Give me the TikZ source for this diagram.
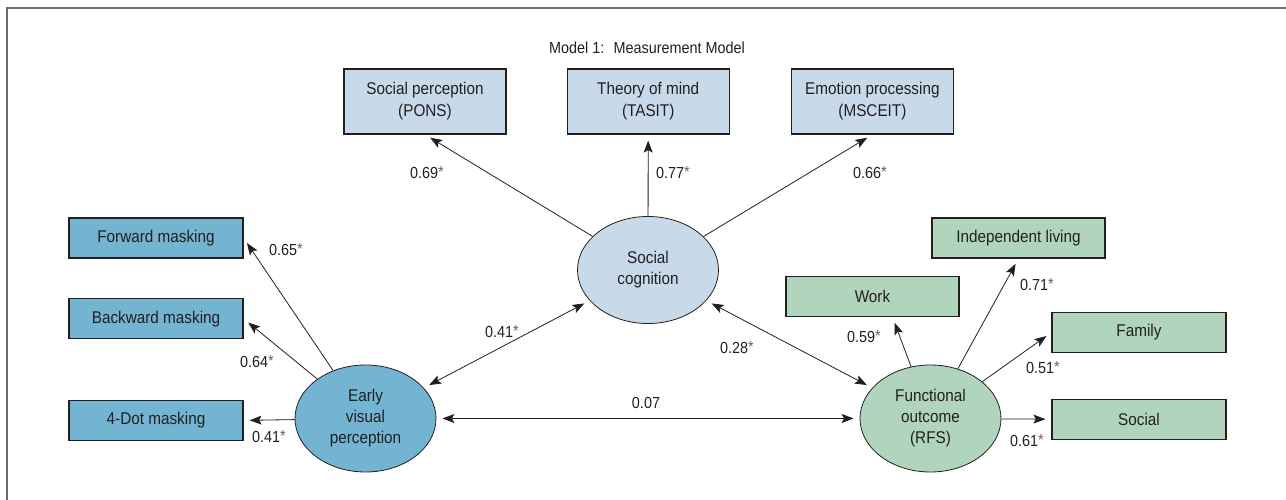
\documentclass[tikz,border=0pt]{standalone}
\usepackage{fontspec}
\setmainfont{Liberation Sans}[FakeStretch=0.9]
\usetikzlibrary{arrows.meta,positioning,shapes.geometric}
\definecolor{scblue}{RGB}{200,218,234}
\definecolor{vpblue}{RGB}{114,180,209}
\definecolor{fogreen}{RGB}{177,213,188}
\definecolor{txgray}{RGB}{35,31,32}
\definecolor{frgray}{RGB}{110,110,110}
\newcommand{\sig}{\raisebox{1pt}{\fontsize{16}{16}\selectfont\textcolor{txgray!70}{*}}}

\tikzset{
  latent/.style={ellipse, draw=txgray, line width=0.8pt, minimum width=141pt,
    minimum height=107pt, inner sep=0pt, align=center, text=txgray,
    font=\fontsize{17}{21}\selectfont},
  obsbox/.style={rectangle, draw=txgray, line width=1.2pt, minimum width=174pt,
    minimum height=40pt, inner sep=0pt, align=center, text=txgray,
    font=\fontsize{17}{22}\selectfont},
  coef/.style={font=\fontsize{16}{18}\selectfont, inner sep=1pt, text=txgray},
  loading/.style={-{Stealth[length=12pt,width=9pt,inset=2.5pt]}, draw=txgray,
    line width=0.8pt, shorten >=6pt},
  covar/.style={{Stealth[length=12pt,width=9pt,inset=2.5pt]}-{Stealth[length=12pt,width=9pt,inset=2.5pt]},
    draw=txgray, line width=0.8pt, shorten <=6pt, shorten >=6pt}
}

\begin{document}
\begin{tikzpicture}[x=1pt, y=-1pt]
\useasboundingbox (0,0) rectangle (1286,500);
% Frame
\draw[frgray, line width=1.6pt] (7,500) -- (7,8) -- (1286,8);
\node[coef] (title) at (647,48) {Model 1:~ Measurement Model};

% Social cognition and its indicators
\node[latent, fill=scblue] (sc) at (648,270) {Social\\cognition};
\node[obsbox, fill=scblue, minimum width=162pt, minimum height=65pt] (sp) at (425,101.5)
      {Social perception\\(PONS)};
\node[obsbox, fill=scblue, minimum width=162pt, minimum height=65pt, right=60pt of sp] (tm)
      {Theory of mind\\(TASIT)};
\node[obsbox, fill=scblue, minimum width=162pt, minimum height=65pt, right=61pt of tm] (ep)
      {Emotion processing\\(MSCEIT)};
\draw[loading] (sc) -- (sp.south);
\draw[loading] (sc) -- (tm.south);
\draw[loading] (sc) -- (ep.south);
\node[coef] at (427,173) {0.69\sig};
\node[coef] at (673,173) {0.77\sig};
\node[coef] at (870,173) {0.66\sig};

% Early visual perception (left)
\node[latent, fill=vpblue] (ev) at (365.5,418.5) {Early\\visual\\perception};
\node[obsbox, fill=vpblue] (fm) at (156,238) {Forward masking};
\node[obsbox, fill=vpblue, below=39.5pt of fm] (bm) {Backward masking};
\node[obsbox, fill=vpblue, below=60.5pt of bm] (dm) {4-Dot masking};
\draw[loading] (ev) -- (fm.east);
\draw[loading] (ev) -- (bm.east);
\draw[loading] (ev) -- (dm.east);
\node[coef] at (286,250) {0.65\sig};
\node[coef] at (257,362) {0.64\sig};
\node[coef] at (269,437) {0.41\sig};

% Functional outcome (right)
\node[latent, fill=fogreen] (fo) at (930.5,418.5) {Functional\\outcome\\(RFS)};
\node[obsbox, fill=fogreen, minimum width=173pt] (il) at (1018.5,238) {Independent living};
\node[obsbox, fill=fogreen, minimum width=173pt] (wk) at (872.5,296.5) {Work};
\node[obsbox, fill=fogreen] (fa) at (1139,332.5) {Family};
\node[obsbox, fill=fogreen, below=45.5pt of fa] (so) {Social};
\draw[loading] (fo) -- ([xshift=20pt]wk.south);
\draw[loading] (fo) -- (il.south);
\draw[loading] (fo) -- (fa.west);
\draw[loading] (fo) -- (so.west);
\node[coef] at (864,337) {0.59\sig};
\node[coef] at (1037,285) {0.71\sig};
\node[coef] at (1043,368) {0.51\sig};
\node[coef] at (1027,441) {0.61\sig};

% Correlations
\draw[covar] (ev) -- (sc);
\draw[covar] (sc) -- (fo);
\draw[covar] (ev) -- (fo);
\node[coef] at (502,332) {0.41\sig};
\node[coef] at (737,348) {0.28\sig};
\node[coef] at (646,403) {0.07};
\end{tikzpicture}
\end{document}
